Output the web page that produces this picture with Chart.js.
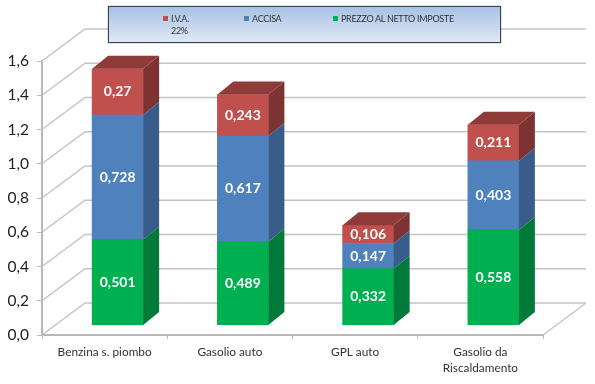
<!DOCTYPE html>
<html>
<head>
<meta charset="utf-8">
<script src="https://cdn.jsdelivr.net/npm/chart.js"></script>
<style>
  body { margin: 0; background: #fff; }
  #wrap { position: relative; width: 595px; height: 384px; overflow: hidden; }
  #legendBox {
    position: absolute; left: 108px; top: 6px; width: 391px; height: 35px;
    border: 1px solid #3a4450; box-shadow: 0 0 1px #555;
    background: linear-gradient(#a9c1e4, #dfe8f6);
    font: 9px Lato, sans-serif; letter-spacing: -0.3px; color: #333;
  }
  #legendBox span { position: absolute; top: 6px; white-space: pre; line-height: 12px; }
  #legendBox i { position: absolute; top: 9px; width: 5px; height: 5px; }
</style>
</head>
<body>
<div id="wrap">
  <canvas id="myChart" width="595" height="384"></canvas>
  <div id="legendBox"></div>
</div>
<script>
const categories = ['Benzina s. piombo', 'Gasolio auto', 'GPL auto', ['Gasolio da', 'Riscaldamento']];
const prezzo = [0.501, 0.489, 0.332, 0.558];
const accisa = [0.728, 0.617, 0.147, 0.403];
const iva = [0.27, 0.243, 0.106, 0.211];
const yTicks = [0, 0.2, 0.4, 0.6, 0.8, 1.0, 1.2, 1.4, 1.6];

const fronts = ['#00B050', '#4F81BD', '#C0504D'];
const sides = ['#007A38', '#385D8A', '#7D3331'];
const tops = ['#008A40', '#3F6A9C', '#8F3B39'];

// depth of the "3D" walls and of the bars
const wallX = 43, wallY = -32;
const barX = 16, barY = -13;
const shiftX = 13, shiftY = -9.5;

function comma(v) { return String(v).replace('.', ','); }

function poly(ctx, pts, color) {
    ctx.fillStyle = color;
    ctx.beginPath();
    pts.forEach((p, i) => i ? ctx.lineTo(p[0], p[1]) : ctx.moveTo(p[0], p[1]));
    ctx.closePath();
    ctx.fill();
}

const walls = {
    id: 'walls',
    beforeDatasetsDraw(chart) {
        const ctx = chart.ctx, y = chart.scales.y, a = chart.chartArea;
        ctx.save();
        ctx.strokeStyle = '#c4c4c4';
        ctx.lineWidth = 1.5;
        ctx.beginPath();
        yTicks.forEach(t => {
            const py = y.getPixelForValue(t);
            ctx.moveTo(a.left, py);
            ctx.lineTo(a.left + wallX, py + wallY);
            ctx.lineTo(a.right + wallX, py + wallY);
        });
        const py0 = y.getPixelForValue(0);
        ctx.moveTo(a.right, py0);
        ctx.lineTo(a.right + wallX, py0 + wallY);
        ctx.stroke();
        ctx.restore();
    },
    // bars stand in the middle of the floor, not on the front edge
    beforeDatasetDraw(chart) {
        chart.ctx.save();
        chart.ctx.translate(shiftX, shiftY);
    },
    afterDatasetDraw(chart, args) {
        const ctx = chart.ctx, i = args.index;
        chart.getDatasetMeta(i).data.forEach(bar => {
            const l = bar.x - bar.width / 2, r = bar.x + bar.width / 2;
            poly(ctx, [[r, bar.y], [r + barX, bar.y + barY], [r + barX, bar.base + barY], [r, bar.base]], sides[i]);
            if (i === 2) {
                poly(ctx, [[l, bar.y], [r, bar.y], [r + barX, bar.y + barY], [l + barX, bar.y + barY]], tops[i]);
            }
        });
        ctx.restore();
    },
    afterDatasetsDraw(chart) {
        const ctx = chart.ctx;
        ctx.save();
        ctx.fillStyle = '#fff';
        ctx.font = 'bold 14px Lato, sans-serif';
        ctx.textAlign = 'center';
        ctx.textBaseline = 'middle';
        chart.data.datasets.forEach((ds, i) => {
            chart.getDatasetMeta(i).data.forEach((bar, j) => {
                ctx.fillText(comma(ds.data[j]), bar.x + shiftX, (bar.y + bar.base) / 2 + shiftY);
            });
        });
        ctx.restore();
    }
};

new Chart(document.getElementById('myChart'), {
    type: 'bar',
    data: {
        labels: categories,
        datasets: [
            { label: 'PREZZO AL NETTO IMPOSTE', data: prezzo, backgroundColor: fronts[0] },
            { label: 'ACCISA', data: accisa, backgroundColor: fronts[1] },
            { label: 'I.V.A.\n22%', data: iva, backgroundColor: fronts[2] }
        ]
    },
    options: {
        responsive: false,
        animation: false,
        layout: { padding: { top: 61, right: 52, left: 0, bottom: 0 } },
        datasets: { bar: { barThickness: 51 } },
        plugins: { legend: { display: false }, tooltip: { enabled: false } },
        scales: {
            x: {
                stacked: true,
                afterFit(s) { s.height = 49; },
                border: { color: '#b8b8b8', width: 2 },
                grid: { drawOnChartArea: false, color: '#b8b8b8', tickLength: 4 },
                ticks: { color: '#333', font: { family: 'Lato', size: 11.8, lineHeight: 1.35 }, maxRotation: 0, padding: 5 }
            },
            y: {
                stacked: true,
                min: 0,
                max: 1.6,
                afterFit(s) { s.width = 42; },
                afterBuildTicks(s) { s.ticks = yTicks.map(v => ({ value: v })); },
                border: { color: '#b8b8b8', width: 2 },
                grid: { drawOnChartArea: false, color: '#b8b8b8', tickLength: 5 },
                ticks: {
                    color: '#222',
                    font: { family: 'Lato', size: 15.5 },
                    padding: 8,
                    callback: v => v.toFixed(1).replace('.', ',')
                }
            }
        }
    },
    plugins: [walls]
});

// legend box, red first like the original
const legendItems = [[iva, 'I.V.A.\n22%', 2, 54], [accisa, 'ACCISA', 1, 135], [prezzo, 'PREZZO AL NETTO IMPOSTE', 0, 224]];
const box = document.getElementById('legendBox');
legendItems.forEach(it => {
    const m = document.createElement('i');
    m.style.left = it[3] + 'px';
    m.style.background = fronts[it[2]];
    const s = document.createElement('span');
    s.style.left = (it[3] + 8) + 'px';
    s.textContent = it[1];
    box.appendChild(m);
    box.appendChild(s);
});
</script>
</body>
</html>
